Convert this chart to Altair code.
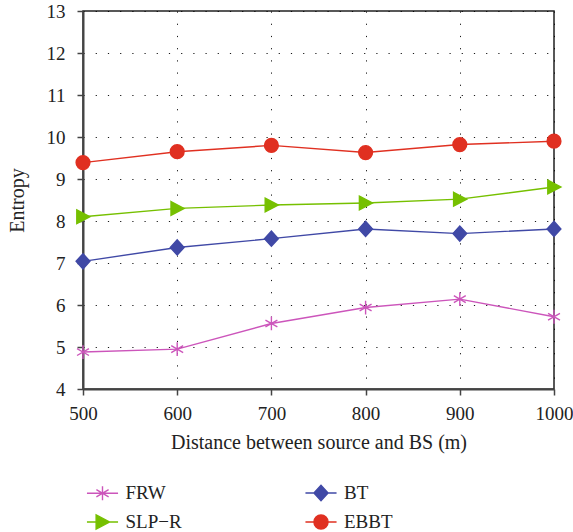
import altair as alt
import pandas as pd

# Distance between source and base station (m)
distance = [500, 600, 700, 800, 900, 1000]

# Entropy per scheme
frw = [4.88, 4.95, 5.56, 5.94, 6.14, 5.72]
bt = [7.04, 7.37, 7.58, 7.81, 7.70, 7.81]
slp_r = [8.10, 8.30, 8.38, 8.43, 8.52, 8.81]
ebbt = [9.39, 9.65, 9.80, 9.63, 9.82, 9.90]

series_names = ["FRW", "BT", "SLP\u2212R", "EBBT"]
series_values = [frw, bt, slp_r, ebbt]
series_colors = ["#cc55bb", "#4049a6", "#76c000", "#e03021"]

# legend entries use their own keys so their symbols can carry a line segment
legend_keys = ["leg:" + n for n in series_names]
# two-column legend, filled column by column
legend_order = [legend_keys[0], legend_keys[2], legend_keys[1], legend_keys[3]]

rows = []
for name, key, vals in zip(series_names, legend_keys, series_values):
    for d, v in zip(distance, vals):
        rows.append({"distance": d, "entropy": v, "series": name, "key": key})
df = pd.DataFrame(rows)

FONT = "Liberation Serif"

# marker paths (unit radius, scaled by sqrt(size)/2)
ASTERISK = "M0,-1L0,1M-0.866,-0.5L0.866,0.5M-0.866,0.5L0.866,-0.5"
DIAMOND = "M-1,0L0,-1.1L1,0L0,1.1Z"
TRI_RIGHT = "M-0.9,-1L1,0L-0.9,1Z"
CIRCLE = "M-1,0A1,1,0,1,0,1,0A1,1,0,1,0,-1,0Z"
marker_paths = [ASTERISK, DIAMOND, TRI_RIGHT, CIRCLE]
SEG = "M-2.2,0L2.2,0"
legend_paths = [SEG + p for p in marker_paths]

all_keys = series_names + legend_order
color_scale = alt.Scale(
    domain=all_keys,
    range=series_colors + [series_colors[i] for i in (0, 2, 1, 3)],
)
shape_scale = alt.Scale(
    domain=all_keys,
    range=marker_paths + [legend_paths[i] for i in (0, 2, 1, 3)],
)

x_enc = alt.X(
    "distance:Q",
    scale=alt.Scale(domain=[500, 1000], nice=False),
    axis=alt.Axis(
        values=distance,
        title="Distance between source and BS (m)",
        format="d",
        labelFlush=False,
        labelFont=FONT,
        titleFont=FONT,
    ),
)
y_enc = alt.Y(
    "entropy:Q",
    scale=alt.Scale(domain=[4, 13], nice=False, zero=False),
    axis=alt.Axis(
        values=list(range(4, 14)),
        title="Entropy",
        labelFont=FONT,
        titleFont=FONT,
    ),
)

legend = alt.Legend(
    orient="none",
    legendX=10,
    legendY=472,
    columns=2,
    values=legend_order,
    labelExpr="replace(datum.label, 'leg:', '')",
    title=None,
    padding=0,
    labelFont=FONT,
    labelFontSize=19,
    labelColor="#222222",
    labelOffset=13.5,
    symbolSize=200,
    symbolOpacity=1,
    symbolStrokeWidth=1.4,
    columnPadding=120.5,
    rowPadding=7.5,
)

# invisible twin of the points that owns the legend
legend_layer = alt.Chart(df).mark_point(filled=True, opacity=0, size=200, strokeWidth=1.4).encode(
    x=x_enc,
    y=y_enc,
    color=alt.Color("key:N", scale=color_scale, legend=legend),
    stroke=alt.Stroke("key:N", scale=color_scale, legend=legend),
    shape=alt.Shape("key:N", scale=shape_scale, legend=legend),
)

lines = alt.Chart(df).mark_line(strokeWidth=1.4).encode(
    x=x_enc,
    y=y_enc,
    color=alt.Color("series:N", scale=color_scale),
    detail="series:N",
)

points = alt.Chart(df).mark_point(filled=True, opacity=1, size=190, strokeWidth=1.4).encode(
    x=x_enc,
    y=y_enc,
    color=alt.Color("series:N", scale=color_scale),
    stroke=alt.Stroke("series:N", scale=color_scale),
    shape=alt.Shape("series:N", scale=shape_scale),
)

chart = (
    alt.layer(legend_layer, lines, points)
    .properties(
        width=471,
        height=378,
        autosize=alt.AutoSizeParams(type="none"),
        padding={"left": 83, "top": 11, "right": 19, "bottom": 143},
    )
    .configure(font=FONT)
    .configure_view(stroke="#222222", strokeWidth=1.5)
    .configure_axis(
        labelFont=FONT,
        titleFont=FONT,
        labelFontSize=19,
        titleFontSize=20,
        titleFontWeight="normal",
        labelColor="#222222",
        titleColor="#222222",
        domainColor="#444444",
        domainWidth=2,
        tickColor="#444444",
        tickWidth=1.5,
        tickSize=6,
        grid=True,
        gridColor="#000000",
        gridDash=[1.2, 11],
        gridWidth=1,
        gridOpacity=0.9,
    )
    .configure_axisX(labelPadding=9, titlePadding=9)
    .configure_axisY(labelPadding=12, titlePadding=19)
)

chart.save("out.html", embed_options={"renderer": "svg", "actions": False})
